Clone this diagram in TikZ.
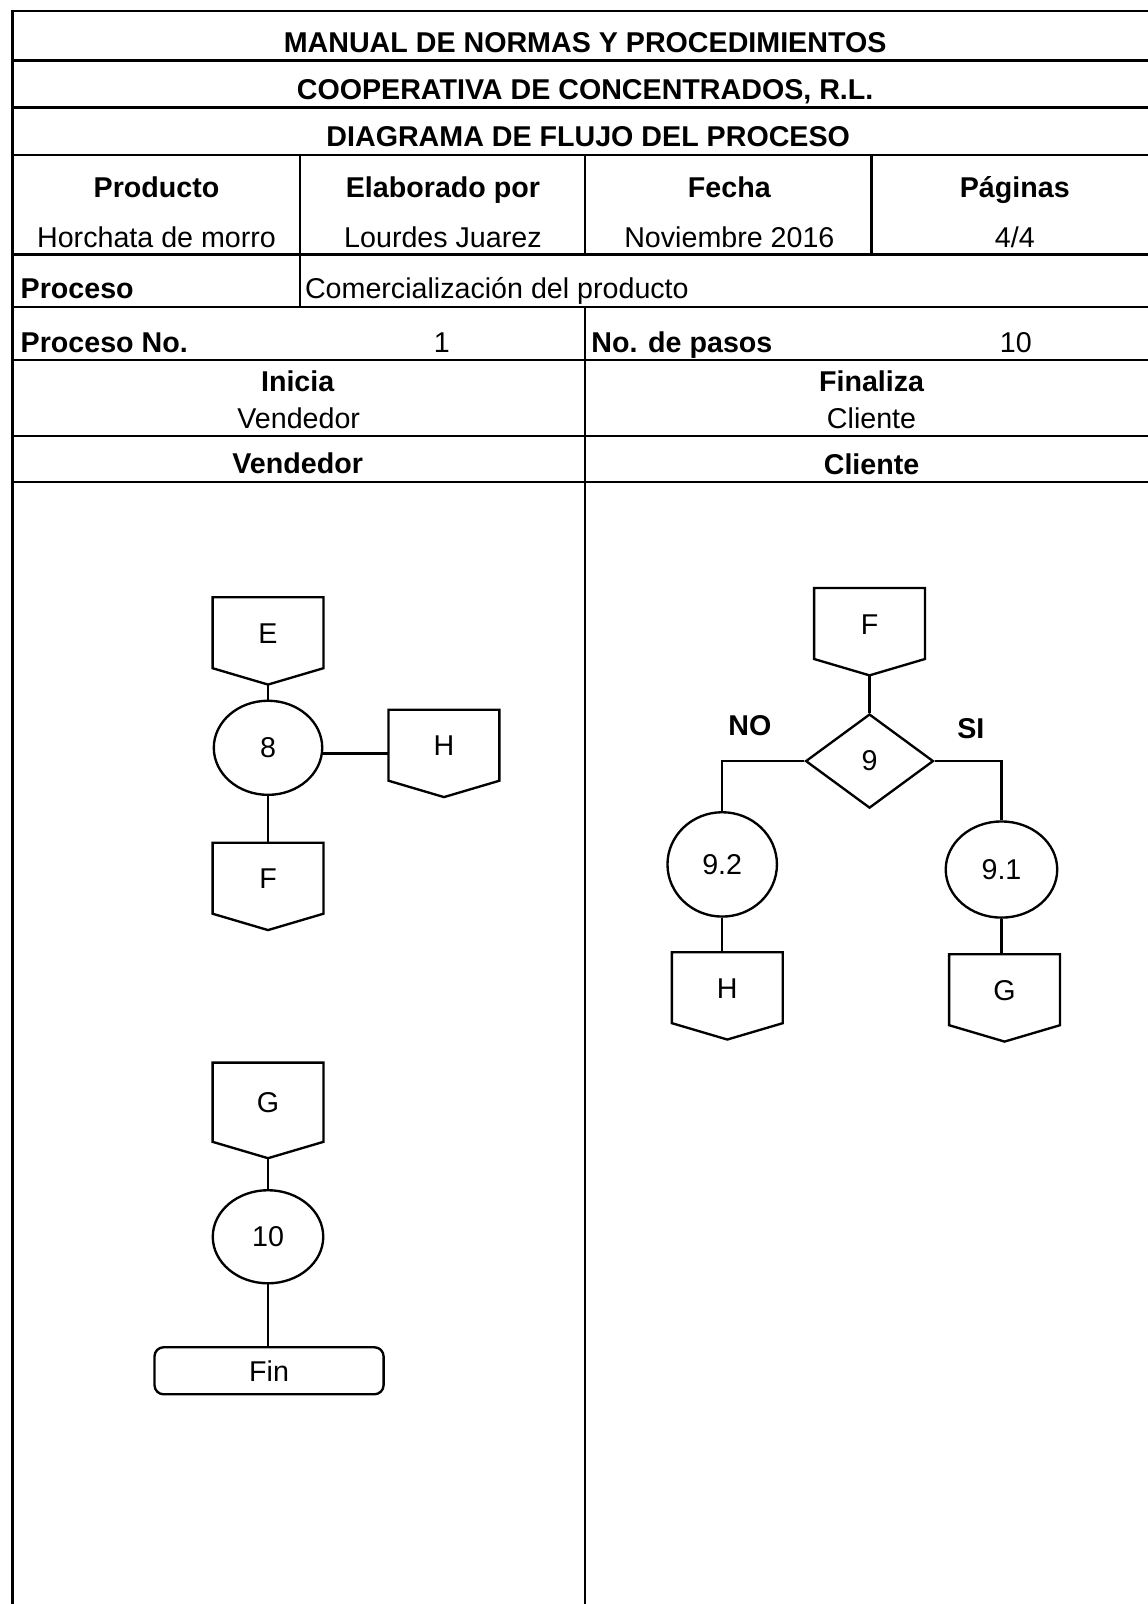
\documentclass[tikz,border=0pt]{standalone}
\usepackage{fontspec}
\setmainfont{Liberation Sans}
\usetikzlibrary{shapes.geometric}
\newcommand\myfs{\fontsize{28}{33}\selectfont}
\newcommand\offpage[5][]{%
  \node[conn,#1] (#2) at (#3,#4) {#5};
  \draw[shp] (#2.north west) -- (#2.north east) -- ([yshift=16pt]#2.south east)
    -- (#2.south) -- ([yshift=16pt]#2.south west) -- cycle;}
\begin{document}
\begin{tikzpicture}[x=1pt,y=-1pt,
  grid/.style={line width=2.4pt, line cap=rect},
  shp/.style={draw, line width=2.3pt, line join=miter},
  link/.style={line width=2.3pt},
  txt/.style={inner sep=0pt, text height=20pt, text depth=0pt, font=\myfs},
  btxt/.style={txt, font=\myfs\bfseries},
  conn/.style={minimum width=108pt, minimum height=85pt, inner sep=0pt,
    text height=20pt, text depth=15pt, font=\myfs},
  proc/.style={shp, ellipse, inner sep=0pt, font=\myfs},
  decis/.style={shp, diamond, inner sep=0pt, minimum width=125pt, minimum height=92pt, font=\myfs},
  term/.style={shp, rounded corners=9pt, minimum width=224pt, minimum height=46pt, inner sep=0pt, font=\myfs}
]
\useasboundingbox (0,0) rectangle (1122,1568);

% ---------- table grid ----------
\foreach \yy in {11,59,105,151.5,249,300,352,426,471}
  \draw[grid] (12,\yy) -- (1122,\yy);
\draw[grid] (12,11) -- (12,1568);
\draw[grid] (293,151.5) -- (293,300);
\draw[grid] (572,151.5) -- (572,249);
\draw[grid] (852,151.5) -- (852,249);
\draw[grid] (572,300) -- (572,1568);

% ---------- table texts ----------
\node[btxt] (t1) at (572,41) {MANUAL DE NORMAS Y PROCEDIMIENTOS};
\node[btxt] (t2) at (572,87) {COOPERATIVA DE CONCENTRADOS, R.L.};
\node[btxt] (t3) at (575,133) {DIAGRAMA DE FLUJO DEL PROCESO};
\node[btxt] (h1) at (153,183) {Producto};
\node[btxt] (h2) at (433,183) {Elaborado por};
\node[btxt] (h3) at (713,183) {Fecha};
\node[btxt] (h4) at (992,183) {Páginas};
\node[txt] (v1) at (153,232) {Horchata de morro};
\node[txt] (v2) at (433,232) {Lourdes Juarez};
\node[txt] (v3) at (713,232) {Noviembre 2016};
\node[txt] (v4) at (992,232) {4/4};
\node[btxt, anchor=west] (p1) at (20,282) {Proceso};
\node[txt, anchor=west] (p2) at (298,282) {Comercialización del producto};
\node[btxt, anchor=west] (n1) at (20,335) {Proceso No.};
\node[txt] (n2) at (432,335) {1};
\node[btxt, anchor=west] (n3) at (578,335) {No. de pasos};
\node[txt] (n4) at (993,335) {10};
\node[btxt] (i1) at (291,373) {Inicia};
\node[txt] (i2) at (292,409) {Vendedor};
\node[btxt] (f1) at (852,373) {Finaliza};
\node[txt] (f2) at (852,409) {Cliente};
\node[btxt] (l1) at (291,453) {Vendedor};
\node[btxt] (l2) at (852,454) {Cliente};

% ---------- Vendedor lane ----------
\offpage{E}{262}{626.5}{E}
\node[proc, minimum width=106pt, minimum height=92pt] (c8) at (262,731) {8};
\offpage{HL}{434}{736.5}{H}
\offpage{FL}{262}{866.5}{F}
\draw[link] (E.south) -- (c8.north);
\draw[link] (HL.west) -- (HL.west -| c8.east);
\draw[link] (c8.south) -- (FL.north);

\offpage[minimum height=93pt]{GL}{262}{1085.5}{G}
\node[proc, minimum width=108pt, minimum height=91pt] (c10) at (262,1209) {10};
\node[term] (fin) at (263,1340) {Fin};
\draw[link] (GL.south) -- (c10.north);
\draw[link] (c10.south) -- (c10.south |- fin.north);

% ---------- Cliente lane ----------
\offpage{FR}{850}{617.5}{F}
\node[decis] (d9) at (850,744) {9};
\node[font=\myfs\bfseries, inner sep=0pt] (no) at (733,709) {NO};
\node[font=\myfs\bfseries, inner sep=0pt] (si) at (949,712) {SI};
\node[proc, minimum width=107pt, minimum height=102pt] (c92) at (706,845) {9.2};
\node[proc, minimum width=109pt, minimum height=94pt] (c91) at (979,850) {9.1};
\offpage{HR}{711}{973.5}{H}
\offpage{GR}{982}{975.5}{G}
\draw[link] (FR.south) -- (d9.north);
\draw[link] (d9.west) -| (c92.north);
\draw[link] (d9.east) -| (c91.north);
\draw[link] (c92.south) -- (c92.south |- HR.north);
\draw[link] (c91.south) -- (c91.south |- GR.north);
\end{tikzpicture}
\end{document}
